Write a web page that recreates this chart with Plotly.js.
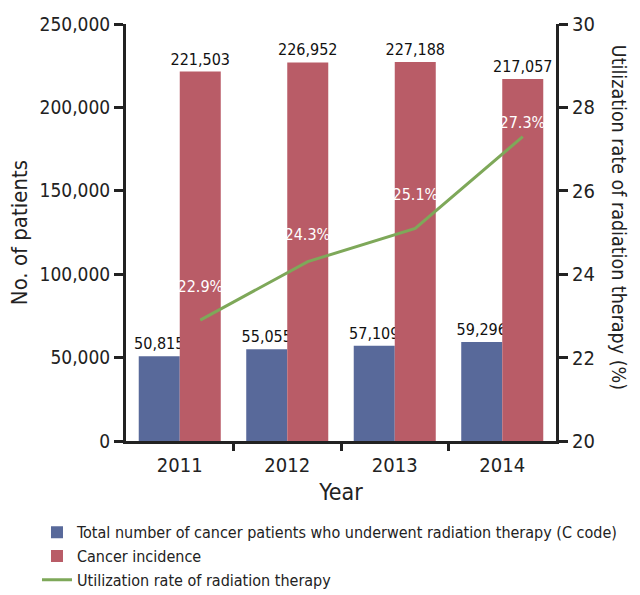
<!DOCTYPE html>
<html>
<head>
<meta charset="utf-8">
<script src="https://cdn.plot.ly/plotly-3.0.1.min.js"></script>
<style>html,body{margin:0;padding:0;background:#fff;}#chart{width:640px;height:595px;}
#chart text{font-stretch:condensed !important;}</style>
</head>
<body>
<div id="chart"></div>
<script>
const years = ["2011", "2012", "2013", "2014"];
const radiationPatients = [50815, 55055, 57109, 59296];
const cancerIncidence = [221503, 226952, 227188, 217057];
const utilizationRate = [22.9, 24.3, 25.1, 27.3];
const rateLabels = ["22.9%", "24.3%", "25.1%", "27.3%"];
const leftTicks = [0, 50000, 100000, 150000, 200000, 250000];
const rightTicks = [20, 22, 24, 26, 28, 30];

// label placement (style only)
const rateLabelShift = [34, 27, 34, 14];

const FONT = '"DejaVu Sans", sans-serif';
const idx = years.map((_, i) => i);
const bargap = 0.237;
const barW = (1 - bargap) / 2;
const lineX = idx.map(i => i + barW / 2);

const traces = [
  {
    type: 'bar', x: idx, y: radiationPatients, name: 'Total number of cancer patients who underwent radiation therapy (C code)',
    marker: {color: '#58699a'}, texttemplate: '%{y:,}', textposition: 'outside', constraintext: 'none',
    textfont: {family: FONT, size: 16, color: '#111'}, cliponaxis: false, hoverinfo: 'y'
  },
  {
    type: 'bar', x: idx, y: cancerIncidence, name: 'Cancer incidence',
    marker: {color: '#b95c67'}, texttemplate: '%{y:,}', textposition: 'outside', constraintext: 'none',
    textfont: {family: FONT, size: 16, color: '#111'}, cliponaxis: false, hoverinfo: 'y'
  },
  {
    type: 'scatter', mode: 'lines', x: lineX, y: utilizationRate, yaxis: 'y2',
    name: 'Utilization rate of radiation therapy', line: {color: '#7ea859', width: 3}, cliponaxis: false
  },
  {
    type: 'scatter', mode: 'none', x: [0.5, 1.5, 2.5], y: [0, 0, 0], xaxis: 'x2', showlegend: false, hoverinfo: 'skip'
  }
];

const rateAnnotations = utilizationRate.map((v, i) => ({
  text: rateLabels[i], x: lineX[i], y: v, xref: 'x', yref: 'y2', showarrow: false,
  xanchor: 'center', yanchor: 'middle', yshift: rateLabelShift[i],
  font: {family: FONT, size: 16, color: '#ffffff'}
}));

const layout = {
  width: 640, height: 595,
  margin: {l: 126, r: 84, t: 24, b: 154, autoexpand: false},
  paper_bgcolor: '#fff', plot_bgcolor: '#fff',
  font: {family: FONT, color: '#222'},
  barmode: 'group', bargap: bargap, bargroupgap: 0,
  showlegend: true,
  legend: {x: -0.207, xanchor: 'left', y: -0.178, yanchor: 'top', orientation: 'v',
           font: {family: FONT, size: 16, color: '#222'}, tracegroupgap: 0, itemwidth: 30, bgcolor: 'rgba(0,0,0,0)'},
  xaxis: {
    range: [-0.5, 3.5], tickvals: idx, ticktext: years, ticks: '', showgrid: false, zeroline: false, automargin: false,
    showline: true, linecolor: '#222', linewidth: 3, tickfont: {family: FONT, size: 20, color: '#222'}, ticklabelstandoff: 4,
    title: {text: 'Year', font: {family: FONT, size: 23, color: '#222'}, standoff: 8}
  },
  xaxis2: {
    overlaying: 'x', range: [-0.5, 3.5], tickvals: [0.5, 1.5, 2.5], showticklabels: false, automargin: false,
    ticks: 'outside', ticklen: 9, tickwidth: 3, tickcolor: '#222', showgrid: false, zeroline: false, side: 'bottom', anchor: 'y'
  },
  yaxis: {
    range: [0, 250000], tickvals: leftTicks, tickformat: ',', ticks: 'outside', ticklen: 9, tickwidth: 3, tickcolor: '#222',
    showline: true, linecolor: '#222', linewidth: 3, showgrid: false, zeroline: false, automargin: false,
    tickfont: {family: FONT, size: 19, color: '#222'}
  },
  yaxis2: {
    overlaying: 'y', side: 'right', range: [20, 30], tickvals: rightTicks, ticks: 'outside', ticklen: 9, tickwidth: 3, tickcolor: '#222',
    showline: true, linecolor: '#222', linewidth: 3, showgrid: false, zeroline: false, automargin: false,
    tickfont: {family: FONT, size: 20, color: '#222'}
  },
  annotations: [{
    text: 'No. of patients', textangle: -90, xref: 'paper', yref: 'paper',
    x: -0.247, y: 0.5, xanchor: 'center', yanchor: 'middle', showarrow: false,
    font: {family: FONT, size: 22, color: '#222'}
  }, {
    text: 'Utilization rate of radiation therapy (%)', textangle: 90, xref: 'paper', yref: 'paper',
    x: 1.145, y: 0.535, xanchor: 'center', yanchor: 'middle', showarrow: false,
    font: {family: FONT, size: 19.5, color: '#222'}
  }].concat(rateAnnotations)
};

Plotly.newPlot('chart', traces, layout, {displayModeBar: false, staticPlot: true});
</script>
</body>
</html>
